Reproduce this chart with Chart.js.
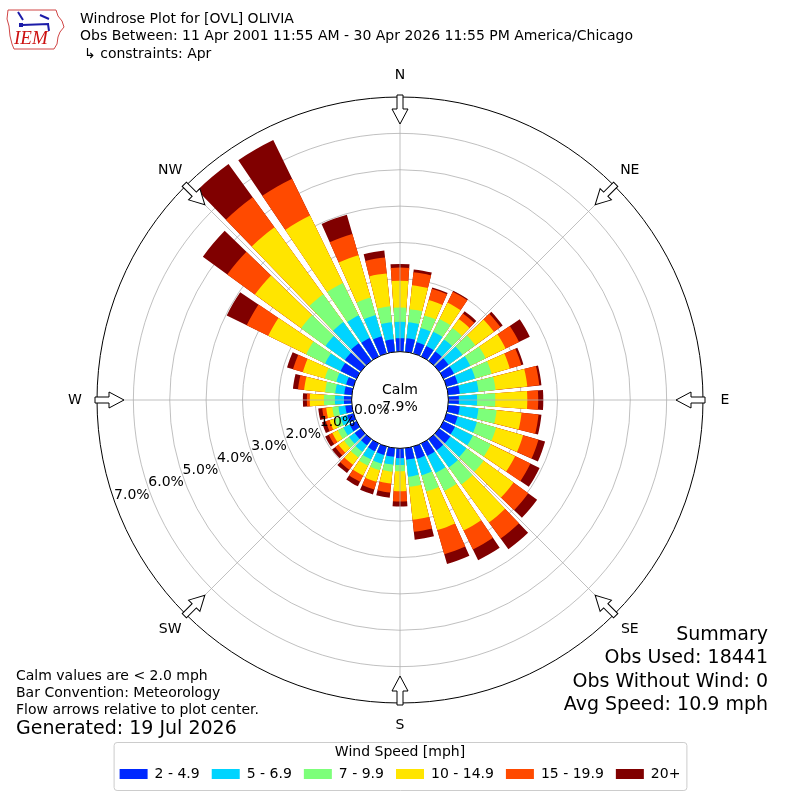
<!DOCTYPE html>
<html>
<head>
<meta charset="utf-8">
<script src="https://cdn.jsdelivr.net/npm/chart.js@4.4.1/dist/chart.umd.min.js"></script>
<style>
  html, body { margin: 0; padding: 0; background: #fff; }
</style>
</head>
<body>
<canvas id="canvas" width="800" height="800"></canvas>
<script>
// wind directions (bar centres, degrees from north, clockwise)
var directions = [0, 10, 20, 30, 40, 50, 60, 70, 80, 90, 100, 110, 120, 130, 140, 150, 160, 170,
                  180, 190, 200, 210, 220, 230, 240, 250, 260, 270, 280, 290, 300, 310, 320, 330, 340, 350];

var speedBins = ['2 - 4.9', '5 - 6.9', '7 - 9.9', '10 - 14.9', '15 - 19.9', '20+'];
var binColors = ['#0028ff', '#00d4ff', '#7dff7a', '#ffe500', '#ff4a00', '#800000'];

// percent of observations in each speed bin, per direction
var spd2to5 = [0.37, 0.38, 0.32, 0.32, 0.32, 0.32, 0.32, 0.32, 0.32, 0.29, 0.32, 0.32, 0.35, 0.38, 0.38, 0.38, 0.35, 0.32,
               0.27, 0.24, 0.24, 0.24, 0.21, 0.21, 0.21, 0.18, 0.18, 0.21, 0.21, 0.21, 0.49, 0.54, 0.60, 0.57, 0.49, 0.35];
var spd5to7 = [0.45, 0.44, 0.41, 0.44, 0.41, 0.47, 0.50, 0.50, 0.52, 0.50, 0.52, 0.55, 0.55, 0.55, 0.58, 0.52, 0.47, 0.47,
               0.19, 0.22, 0.25, 0.25, 0.22, 0.19, 0.19, 0.19, 0.19, 0.25, 0.25, 0.28, 0.47, 0.66, 0.72, 0.69, 0.61, 0.47];
var spd7to10 = [0.39, 0.36, 0.36, 0.39, 0.39, 0.44, 0.47, 0.47, 0.47, 0.50, 0.50, 0.55, 0.55, 0.58, 0.58, 0.55, 0.47, 0.28,
                0.17, 0.19, 0.19, 0.19, 0.19, 0.17, 0.17, 0.17, 0.17, 0.30, 0.28, 0.33, 0.58, 0.83, 0.94, 0.99, 0.50, 0.44];
var spd10to15 = [0.74, 0.66, 0.44, 0.50, 0.30, 0.63, 0.61, 0.52, 0.88, 0.88, 0.69, 0.77, 0.74, 1.02, 1.29, 1.21, 1.10, 0.91,
                 0.55, 0.33, 0.33, 0.30, 0.25, 0.19, 0.17, 0.14, 0.17, 0.39, 0.58, 0.63, 1.16, 1.57, 2.28, 2.06, 1.21, 0.91];
var spd15to20 = [0.36, 0.36, 0.32, 0.33, 0.19, 0.22, 0.41, 0.33, 0.33, 0.30, 0.47, 0.44, 0.47, 0.50, 0.55, 0.58, 0.69, 0.33,
                 0.28, 0.25, 0.22, 0.19, 0.17, 0.11, 0.11, 0.11, 0.11, 0.08, 0.17, 0.28, 0.66, 0.94, 1.02, 1.13, 0.61, 0.44];
var spd20plus = [0.10, 0.08, 0.04, 0.03, 0.08, 0.08, 0.33, 0.06, 0.06, 0.14, 0.08, 0.19, 0.28, 0.30, 0.36, 0.33, 0.28, 0.22,
                 0.14, 0.14, 0.14, 0.14, 0.11, 0.11, 0.11, 0.11, 0.11, 0.11, 0.14, 0.17, 0.61, 0.83, 1.13, 1.18, 0.55, 0.19];
var series = [spd2to5, spd5to7, spd7to10, spd10to15, spd15to20, spd20plus];

var tickValues = [0, 1, 2, 3, 4, 5, 6, 7];
var tickLabels = ['0.0%', '1.0%', '2.0%', '3.0%', '4.0%', '5.0%', '6.0%', '7.0%'];
var compassAngles = [0, 45, 90, 135, 180, 225, 270, 315];
var compassLabels = ['N', 'NE', 'E', 'SE', 'S', 'SW', 'W', 'NW'];
var calmPercent = '7.9%';

var titleLines = ['Windrose Plot for [OVL] OLIVIA',
                  'Obs Between: 11 Apr 2001 11:55 AM - 30 Apr 2026 11:55 PM America/Chicago',
                  '\u21b3 constraints: Apr'];
var noteLines = ['Calm values are < 2.0 mph', 'Bar Convention: Meteorology', 'Flow arrows relative to plot center.'];
var generatedLine = 'Generated: 19 Jul 2026';
var summaryLines = ['Summary', 'Obs Used: 18441', 'Obs Without Wind: 0', 'Avg Speed: 10.9 mph'];

var rMin = -1.33;   // leaves room for the calm circle
var rMax = 7;
var barAngle = 8, gapAngle = 2;

Chart.defaults.font.family = '"DejaVu Sans", sans-serif';
Chart.defaults.font.size = 14;
Chart.defaults.color = '#000';

// each bar is drawn as a wedge followed by an empty wedge (the gap);
// speed bins are stacked by overlaying cumulative totals
var labels = [];
directions.forEach(function (d) { labels.push(d + '\u00b0', ''); });

var datasets = speedBins.map(function (name, k) {
  var data = [], colors = [], angles = [];
  directions.forEach(function (d, i) {
    var total = 0;
    for (var j = 0; j <= k; j++) total += series[j][i];
    data.push(total, 0);
    colors.push(binColors[k], 'rgba(0,0,0,0)');
    angles.push(barAngle, gapAngle);
  });
  return {
    label: name,
    data: data,
    backgroundColor: colors,
    borderWidth: 0,
    angle: angles,
    legendColor: binColors[k]
  };
});

function polar(s, deg, dist) {
  var t = deg * Math.PI / 180;
  return { x: s.xCenter + dist * Math.sin(t), y: s.yCenter - dist * Math.cos(t) };
}

var decor = {
  id: 'decor',
  afterDatasetsDraw: function (chart) {
    var s = chart.scales.r, ctx = chart.ctx;
    var R = s.getDistanceFromCenterForValue(rMax);
    ctx.save();
    ctx.strokeStyle = '#b0b0b0';
    ctx.lineWidth = 0.8;
    compassAngles.forEach(function (a) {
      var p = polar(s, a, R);
      ctx.beginPath();
      ctx.moveTo(s.xCenter, s.yCenter);
      ctx.lineTo(p.x, p.y);
      ctx.stroke();
    });
    ctx.restore();
  },
  afterDraw: function (chart) {
    var s = chart.scales.r, ctx = chart.ctx;
    var R = s.getDistanceFromCenterForValue(rMax);
    var r0 = s.getDistanceFromCenterForValue(0);
    ctx.save();

    // calm circle
    ctx.beginPath();
    ctx.arc(s.xCenter, s.yCenter, r0, 0, Math.PI * 2);
    ctx.fillStyle = '#fff';
    ctx.fill();
    ctx.strokeStyle = '#000';
    ctx.lineWidth = 1;
    ctx.stroke();

    ctx.fillStyle = '#000';
    ctx.textAlign = 'center';
    ctx.textBaseline = 'middle';
    ctx.font = '14px "DejaVu Sans"';
    ctx.fillText('Calm', s.xCenter, s.yCenter - 10);
    ctx.fillText(calmPercent, s.xCenter, s.yCenter + 7);

    // radial tick labels
    tickValues.forEach(function (v, i) {
      var p = polar(s, 250.5, s.getDistanceFromCenterForValue(v) - 18.5);
      ctx.fillText(tickLabels[i], p.x, p.y);
    });

    // compass labels and flow arrows
    compassAngles.forEach(function (a, i) {
      var p = polar(s, a, R + 22);
      ctx.fillStyle = '#000';
      ctx.fillText(compassLabels[i], p.x, p.y);
      ctx.save();
      ctx.translate(s.xCenter, s.yCenter);
      ctx.rotate(a * Math.PI / 180);
      ctx.beginPath();
      ctx.moveTo(-3, -R - 2);
      ctx.lineTo(3, -R - 2);
      ctx.lineTo(3, -R + 12);
      ctx.lineTo(8, -R + 12);
      ctx.lineTo(0, -R + 27);
      ctx.lineTo(-8, -R + 12);
      ctx.lineTo(-3, -R + 12);
      ctx.closePath();
      ctx.fillStyle = '#fff';
      ctx.fill();
      ctx.strokeStyle = '#000';
      ctx.lineWidth = 1;
      ctx.stroke();
      ctx.restore();
    });

    // header
    ctx.textAlign = 'left';
    ctx.fillStyle = '#000';
    ctx.font = '14px "DejaVu Sans"';
    titleLines.forEach(function (t, i) {
      ctx.fillText(t, i === 2 ? 84 : 80, 19 + i * 17.5);
    });

    // notes bottom left
    noteLines.forEach(function (t, i) {
      ctx.fillText(t, 16, 676 + i * 17);
    });
    ctx.font = '19px "DejaVu Sans"';
    ctx.fillText(generatedLine, 16, 729);

    // summary bottom right
    ctx.textAlign = 'right';
    summaryLines.forEach(function (t, i) {
      ctx.fillText(t, 768, 635 + i * 23.5);
    });

    // legend frame
    var lg = chart.legend, hb = lg.legendHitBoxes;
    if (hb && hb.length) {
      var last = hb[hb.length - 1];
      var x0 = hb[0].left - 6, x1 = last.left + last.width + 6;
      var y0 = lg.top + 39, y1 = lg.bottom - 1;
      ctx.beginPath();
      ctx.roundRect(x0 + 0.5, y0 + 0.5, x1 - x0, y1 - y0, 3);
      ctx.strokeStyle = '#cccccc';
      ctx.lineWidth = 1;
      ctx.stroke();
    }

    // IEM logo
    ctx.strokeStyle = '#d04545';
    ctx.lineWidth = 1;
    ctx.beginPath();
    [[8, 10], [56, 10], [58, 16], [62, 21], [64, 27], [60, 32], [58, 37], [57, 44], [54, 49],
     [14, 49], [12, 44], [10, 36], [9, 26], [7, 19], [8, 10]].forEach(function (p, i) {
      if (i === 0) ctx.moveTo(p[0], p[1]); else ctx.lineTo(p[0], p[1]);
    });
    ctx.stroke();
    ctx.strokeStyle = '#1c1ca8';
    ctx.lineWidth = 2;
    ctx.beginPath();
    ctx.moveTo(22, 25); ctx.lineTo(49, 24);
    ctx.moveTo(18, 12); ctx.lineTo(23, 20);
    ctx.moveTo(40, 15); ctx.lineTo(49, 19);
    ctx.moveTo(48, 24); ctx.lineTo(49, 31);
    ctx.stroke();
    ctx.fillStyle = '#1c1ca8';
    ctx.fillRect(19, 23, 4, 4);
    ctx.fillStyle = '#cc1111';
    ctx.font = 'italic 19px "Liberation Serif", serif';
    ctx.textAlign = 'left';
    ctx.fillText('IEM', 14, 39);

    ctx.restore();
  }
};

new Chart(document.getElementById('canvas'), {
  type: 'polarArea',
  data: { labels: labels, datasets: datasets },
  options: {
    responsive: false,
    devicePixelRatio: 1,
    animation: false,
    events: [],
    layout: { padding: { top: 97, left: 97, right: 97, bottom: 9 } },
    scales: {
      r: {
        min: rMin,
        max: rMax,
        startAngle: -barAngle / 2,
        z: 1,
        ticks: { display: false, stepSize: 1 },
        pointLabels: { display: false },
        angleLines: { display: false },
        grid: {
          circular: true,
          color: function (c) {
            var v = c.tick ? c.tick.value : -1;
            if (Math.abs(v - rMax) < 1e-6) return '#000';
            return '#b0b0b0';
          },
          lineWidth: function (c) {
            var v = c.tick ? c.tick.value : -1;
            if (v < 0.5 || Math.abs(v - Math.round(v)) > 1e-6) return 0;
            return Math.abs(v - rMax) < 1e-6 ? 1 : 0.8;
          }
        }
      }
    },
    plugins: {
      tooltip: { enabled: false },
      legend: {
        position: 'bottom',
        title: {
          display: true,
          text: 'Wind Speed [mph]',
          font: { size: 14, lineHeight: 1 },
          padding: { top: 42, bottom: -4 }
        },
        labels: {
          boxWidth: 28,
          boxHeight: 10,
          padding: 12,
          font: { size: 14 },
          generateLabels: function (chart) {
            return chart.data.datasets.map(function (ds, i) {
              return {
                text: ds.label,
                fillStyle: ds.legendColor,
                strokeStyle: ds.legendColor,
                fontColor: '#000',
                lineWidth: 0,
                hidden: false,
                datasetIndex: i
              };
            });
          }
        }
      }
    }
  },
  plugins: [decor]
});
</script>
</body>
</html>
